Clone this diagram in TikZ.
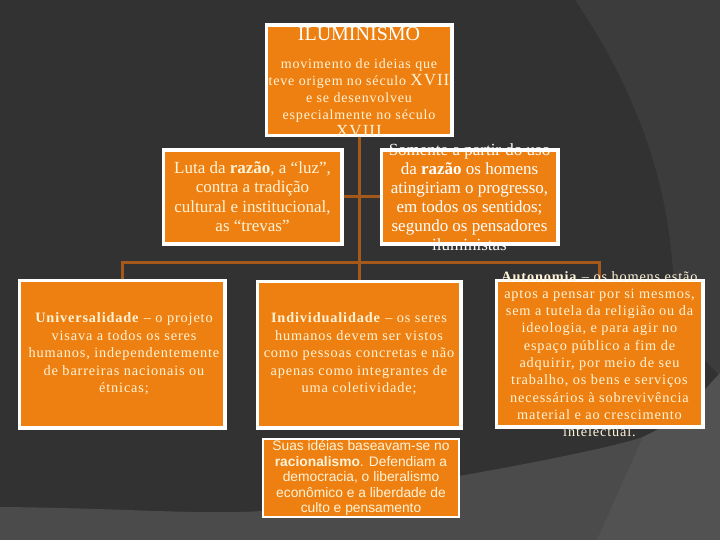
\documentclass[tikz,border=0pt]{standalone}
\usepackage{fontspec}
\setmainfont{Liberation Serif}
\newfontfamily\spacedserif[LetterSpace=6]{Liberation Serif}
\newfontfamily\sansfam{Liberation Sans}
\definecolor{bgbase}{HTML}{323232}
\definecolor{bgmid}{HTML}{3C3C3C}
\definecolor{bglight}{HTML}{4B4B4B}
\definecolor{bglighter}{HTML}{525252}
\definecolor{boxorange}{HTML}{EE8012}
\definecolor{conn}{HTML}{A4591A}
\definecolor{txt}{HTML}{FFF4D8}
\tikzset{
  box/.style={draw=white, line width=2.5pt, fill=boxorange, inner sep=0pt},
  link/.style={draw=conn, line width=3pt},
  label/.style={text=txt, align=center, inner sep=0pt},
}
\begin{document}
\begin{tikzpicture}[x=1pt,y=-1pt]
\useasboundingbox (0,0) rectangle (720,540);
% background
\fill[bgbase] (0,0) rectangle (720,540);
\fill[bgmid] (575,0) .. controls (630,80) and (665,170) .. (672,260)
  .. controls (678,320) and (700,360) .. (720,375) -- (720,0) -- cycle;
\fill[bglight] (0,507) .. controls (120,508) and (200,515) .. (262,511)
  .. controls (350,495) and (400,485) .. (459,476)
  .. controls (550,460) and (620,445) .. (643,437)
  .. controls (680,420) and (700,395) .. (720,373) -- (720,540) -- (0,540) -- cycle;
\fill[bglighter] (643,437) -- (597,540) -- (720,540) -- (720,373)
  .. controls (700,395) and (680,420) .. (643,437) -- cycle;

% boxes
\node[box, minimum width=184pt, minimum height=109pt] (top) at (359,80.5) {};
\node[box, minimum width=177pt, minimum height=92pt] (luta) at (252.5,197) {};
\node[box, minimum width=175pt, minimum height=92pt] (somente) at (469.5,197) {};
\node[box, minimum width=204pt, minimum height=146pt] (univ) at (122,354) {};
\node[box, minimum width=202pt, minimum height=145pt] (indiv) at (359,354.5) {};
\node[box, minimum width=205pt, minimum height=145pt] (auton) at (599.5,353.5) {};
\node[box, minimum width=196pt, minimum height=78pt] (suas) at (361,478) {};

% connectors
\coordinate (hub) at (top.south |- 0,262);
\draw[link] (top.south) -- (indiv.north);
\draw[link] (luta.east) -- (somente.west);
\draw[link] (univ.north) |- (hub) -| (auton.north);

% redraw box borders over connector ends
\foreach \b in {top,luta,somente,univ,indiv,auton}{
  \draw[draw=white, line width=2.5pt] (\b.north west) rectangle (\b.south east);
}

% texts
\node[label, text=white, font=\fontsize{20}{20}\selectfont] (t0) at (359,34) {ILUMINISMO};
\node[label, font=\spacedserif\fontsize{14}{17}\selectfont] (t1) at (359,97.5)
  {movimento de ideias que\\teve origem no século {\fontsize{17}{17}\selectfont XVII}\\e se desenvolveu\\especialmente no século\\{\fontsize{17}{17}\selectfont XVIII}};
\node[label, font=\fontsize{17}{19.4}\selectfont] (t2) at (252.5,196.5)
  {Luta da \textbf{razão}, a “luz”,\\contra a tradição\\cultural  e institucional,\\as “trevas”};
\node[label, text=white, font=\fontsize{17}{19}\selectfont] (t3) at (469.5,197.5)
  {Somente a partir do uso\\da \textbf{razão} os homens\\atingiriam o progresso,\\em todos os sentidos;\\segundo os pensadores\\iluministas};
\node[label, font=\spacedserif\fontsize{14.3}{17.5}\selectfont] (t4) at (124,354)
  {\textbf{Universalidade} – o projeto\\visava a todos os seres\\humanos, independentemente\\de barreiras nacionais ou\\étnicas;};
\node[label, font=\spacedserif\fontsize{14.3}{17.5}\selectfont] (t5) at (359,354)
  {\textbf{Individualidade} – os seres\\humanos devem ser vistos\\como pessoas concretas e não\\apenas como integrantes de\\uma coletividade;};
\node[label, font=\spacedserif\fontsize{14.3}{17.3}\selectfont] (t6) at (599.5,354)
  {\textbf{Autonomia} – os homens estão\\aptos a pensar por si mesmos,\\sem a tutela da religião ou da\\ideologia, e para agir no\\espaço público a fim de\\adquirir, por meio de seu\\trabalho, os bens e serviços\\necessários à sobrevivência\\material e ao crescimento\\intelectual.};
\node[label, font=\sansfam\fontsize{13.8}{15.5}\selectfont] (t7) at (361,478)
  {Suas idéias baseavam-se no\\\textbf{racionalismo}. Defendiam a\\democracia, o liberalismo\\econômico e a liberdade de\\culto e pensamento};
\end{tikzpicture}
\end{document}
